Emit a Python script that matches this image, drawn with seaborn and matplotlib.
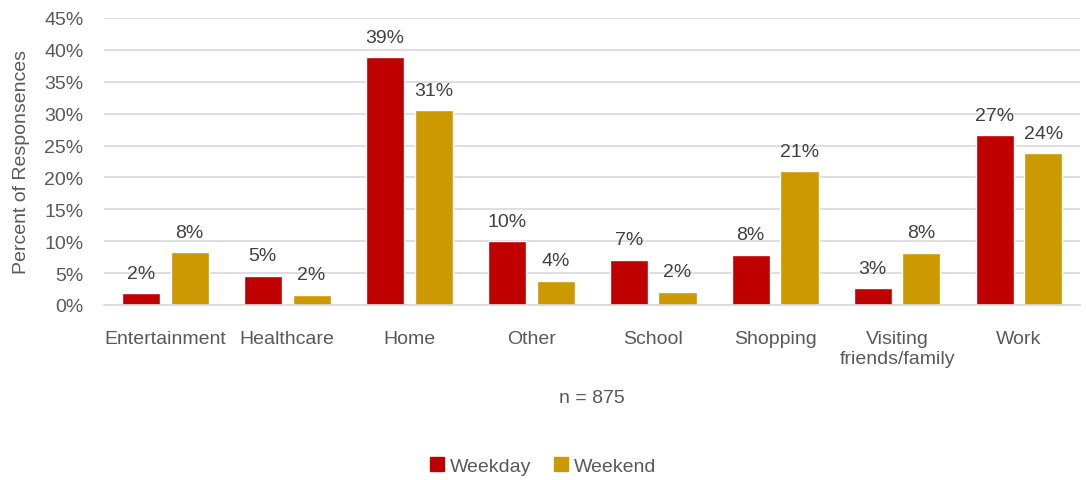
import numpy as np
import pandas as pd
import matplotlib.pyplot as plt
import seaborn as sns
from matplotlib.patches import Patch
from matplotlib.ticker import PercentFormatter

sns.set_style('white')
plt.rcParams['font.family'] = ['Liberation Sans Narrow', 'Liberation Sans', 'DejaVu Sans']

categories = ['Entertainment', 'Healthcare', 'Home', 'Other', 'School', 'Shopping',
              'Visiting\nfriends/family', 'Work']
weekday = [1.8, 4.6, 38.9, 10.0, 7.1, 7.9, 2.6, 26.6]
weekend = [8.3, 1.6, 30.6, 3.8, 2.1, 21.0, 8.2, 23.8]
series = ['Weekday', 'Weekend']
colors = ['#C00000', '#CC9900']

df = pd.DataFrame({'Purpose': categories * 2,
                   'Day': ['Weekday'] * len(categories) + ['Weekend'] * len(categories),
                   'Pct': weekday + weekend})

txt = '#595959'
fig = plt.figure(figsize=(10.86, 4.81), dpi=100)
ax = fig.add_axes([0.096, 0.364, 0.8985, 0.5965])
sns.barplot(data=df, x='Purpose', y='Pct', hue='Day', palette=colors, hue_order=series,
            width=0.80, gap=0.22, ax=ax, legend=False, saturation=1)

ax.set_ylim(0, 45)
ax.set_yticks(np.arange(0, 46, 5))
ax.yaxis.set_major_formatter(PercentFormatter(decimals=0))
ax.grid(axis='y', color='#D9D9D9', linewidth=1.2)
ax.set_axisbelow(True)
for s in ['top', 'right', 'left']:
    ax.spines[s].set_visible(False)
ax.spines['bottom'].set_color('#D9D9D9')
ax.spines['bottom'].set_linewidth(1.2)
ax.tick_params(axis='y', length=0, labelsize=14, colors=txt, pad=15)
ax.tick_params(axis='x', length=0, labelsize=14, colors=txt, pad=18)
ax.set_xlim(-0.5, len(categories) - 0.5)
ax.set_ylabel('Percent of Responsences', fontsize=14, color=txt)
ax.yaxis.set_label_coords(-0.0758, 0.5)
ax.set_xlabel('n = 875', fontsize=14, color=txt, labelpad=16)

for cont in ax.containers:
    for bar in cont:
        h = bar.get_height()
        ax.annotate(f'{round(h):.0f}%', (bar.get_x() + bar.get_width() / 2, h),
                    xytext=(0, 11), textcoords='offset points', ha='center',
                    va='baseline', fontsize=14, color='#404040')

handles = [Patch(color=c, label=s) for c, s in zip(colors, series)]
fig.legend(handles=handles, loc='lower center', bbox_to_anchor=(0.5, -0.025), ncol=2,
           frameon=False, fontsize=14, handlelength=0.7, handleheight=0.7,
           handletextpad=0.3, columnspacing=1.2, labelcolor=txt)

fig.savefig('out.png', dpi=100)
